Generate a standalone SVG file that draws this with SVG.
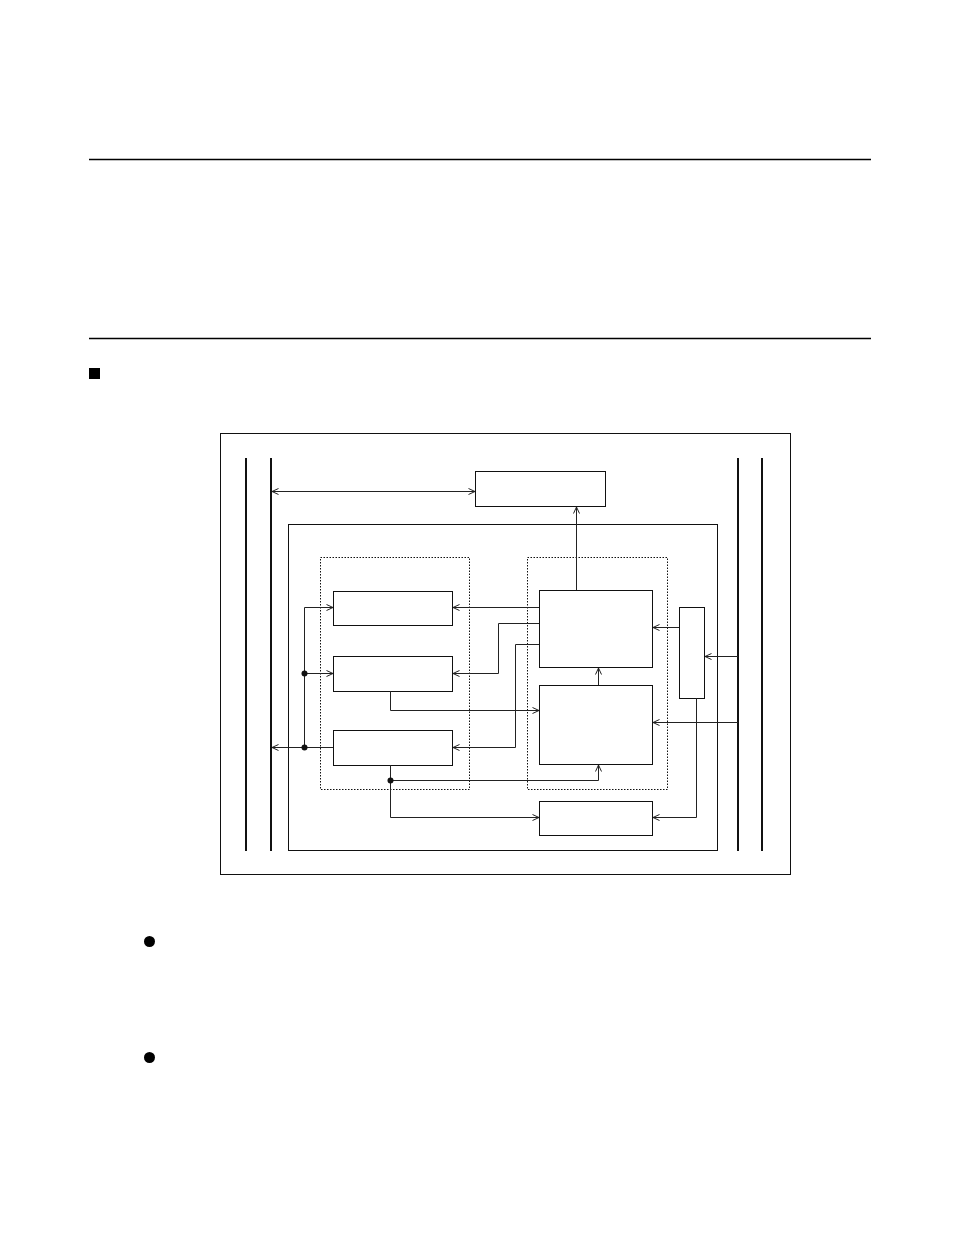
<svg xmlns="http://www.w3.org/2000/svg" width="954" height="1235" viewBox="0 0 954 1235">
<style>
.rule{stroke:#000;stroke-width:1.3}
.box{fill:#fff;stroke:#111;stroke-width:1}
.frame{fill:none;stroke:#111;stroke-width:1}
.dot{fill:none;stroke:#111;stroke-width:1;stroke-dasharray:1.5 1.5}
.bus{stroke:#111;stroke-width:2}
.c{fill:none;stroke:#222;stroke-width:1}
.a{marker-end:url(#ah)}
</style>
<defs>
<marker id="ah" viewBox="0 0 8 8" refX="7.5" refY="4" markerWidth="8" markerHeight="8" markerUnits="userSpaceOnUse" orient="auto-start-reverse">
<path d="M1,1 L7.5,4 L1,7" fill="none" stroke="#222" stroke-width="1"/>
</marker>
</defs>
<rect width="954" height="1235" fill="#fff"/>
<g id="page">
<line class="rule" x1="89" y1="159.5" x2="871" y2="159.5"/>
<line class="rule" x1="89" y1="338.5" x2="871" y2="338.5"/>
<rect x="89" y="368" width="11" height="11" fill="#000"/>
<circle cx="149.5" cy="941.5" r="5.5" fill="#000"/>
<circle cx="149.5" cy="1057.5" r="5.5" fill="#000"/>
</g>
<g id="outer-frame"><rect class="frame" x="220.5" y="433.5" width="570" height="441"/></g>
<g id="buses">
<line class="bus" x1="246" y1="458" x2="246" y2="851"/>
<line class="bus" x1="271" y1="458" x2="271" y2="851"/>
<line class="bus" x1="738" y1="458" x2="738" y2="851"/>
<line class="bus" x1="762" y1="458" x2="762" y2="851"/>
</g>
<g id="inner-frame"><rect class="frame" x="288.5" y="524.5" width="429" height="326"/></g>
<g id="group-left"><rect class="dot" x="320.5" y="557.5" width="149" height="232"/></g>
<g id="group-right"><rect class="dot" x="527.5" y="557.5" width="140" height="232"/></g>
<g id="node-top"><rect class="box" x="475.5" y="471.5" width="130" height="35"/></g>
<g id="node-a"><rect class="box" x="333.5" y="591.5" width="119" height="34"/></g>
<g id="node-b"><rect class="box" x="333.5" y="656.5" width="119" height="35"/></g>
<g id="node-c"><rect class="box" x="333.5" y="730.5" width="119" height="35"/></g>
<g id="node-d"><rect class="box" x="539.5" y="590.5" width="113" height="77"/></g>
<g id="node-e"><rect class="box" x="539.5" y="685.5" width="113" height="79"/></g>
<g id="node-f"><rect class="box" x="539.5" y="801.5" width="113" height="34"/></g>
<g id="node-g"><rect class="box" x="679.5" y="607.5" width="25" height="91"/></g>
<g id="connectors">
<line class="c a" x1="272" y1="491.5" x2="475" y2="491.5" marker-start="url(#ah)"/>
<line class="c a" x1="576.5" y1="590" x2="576.5" y2="507"/>
<polyline class="c" points="304.5,747.5 304.5,607.5"/>
<line class="c a" x1="304.5" y1="607.5" x2="333" y2="607.5"/>
<line class="c a" x1="304.5" y1="673.5" x2="333" y2="673.5"/>
<line class="c a" x1="333" y1="747.5" x2="272" y2="747.5"/>
<circle cx="304.5" cy="673.5" r="3" fill="#111"/>
<circle cx="304.5" cy="747.5" r="3" fill="#111"/>
<line class="c a" x1="539" y1="607.5" x2="453" y2="607.5"/>
<polyline class="c a" points="539,623.5 498.5,623.5 498.5,673.5 453,673.5"/>
<polyline class="c a" points="539,644.5 515.5,644.5 515.5,747.5 453,747.5"/>
<polyline class="c a" points="390.5,691 390.5,710.5 539,710.5"/>
<polyline class="c a" points="390.5,780.5 598.5,780.5 598.5,765"/>
<polyline class="c a" points="390.5,765 390.5,817.5 539,817.5"/>
<circle cx="390.5" cy="780.5" r="3" fill="#111"/>
<line class="c a" x1="598.5" y1="685" x2="598.5" y2="668"/>
<line class="c a" x1="679" y1="627.5" x2="653" y2="627.5"/>
<line class="c a" x1="738" y1="656.5" x2="705" y2="656.5"/>
<line class="c a" x1="738" y1="722.5" x2="653" y2="722.5"/>
<polyline class="c a" points="696.5,698 696.5,817.5 653,817.5"/>
</g>
</svg>
